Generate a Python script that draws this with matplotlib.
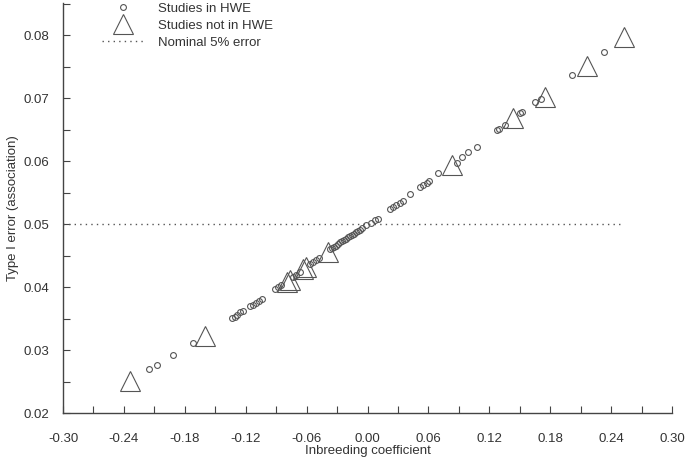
import matplotlib
matplotlib.use("Agg")
import matplotlib.pyplot as plt
from matplotlib.ticker import MultipleLocator, FormatStrFormatter

plt.rcParams['font.family'] = ['Liberation Sans', 'DejaVu Sans']

# Studies in HWE (circles): inbreeding coefficient vs type I error
hwe_f = [-0.215, -0.207, -0.192, -0.172,
         -0.134, -0.131, -0.129, -0.126, -0.123,
         -0.116, -0.113, -0.110, -0.107, -0.104,
         -0.091, -0.088, -0.085, -0.073, -0.070, -0.067,
         -0.057, -0.054, -0.051, -0.048,
         -0.037, -0.035, -0.033, -0.031, -0.029, -0.027, -0.025, -0.023,
         -0.021, -0.019, -0.017, -0.015, -0.013, -0.011, -0.009, -0.007,
         -0.005, -0.001, 0.003, 0.007, 0.010,
         0.022, 0.025, 0.028, 0.032, 0.035, 0.042,
         0.052, 0.055, 0.059, 0.061, 0.0695,
         0.088, 0.093, 0.099, 0.108, 0.1276, 0.1295, 0.1355,
         0.150, 0.152, 0.165, 0.171, 0.2015, 0.233]
hwe_err = [0.0270, 0.0276, 0.0292, 0.0311,
           0.0351, 0.0353, 0.0356, 0.0360, 0.0362,
           0.0370, 0.0372, 0.0375, 0.0378, 0.0381,
           0.0397, 0.0400, 0.0403, 0.0416, 0.0420, 0.0424,
           0.0437, 0.0440, 0.0443, 0.0446,
           0.0460, 0.0462, 0.0464, 0.0466, 0.0468, 0.0471, 0.0473, 0.0475,
           0.0477, 0.0479, 0.0481, 0.0483, 0.0485, 0.0487, 0.0489, 0.0491,
           0.0494, 0.0498, 0.0502, 0.0506, 0.0509,
           0.0524, 0.0527, 0.0530, 0.0534, 0.0537, 0.0548,
           0.0559, 0.0563, 0.0566, 0.0569, 0.0581,
           0.0598, 0.0606, 0.0614, 0.0622, 0.0649, 0.0651, 0.0657,
           0.0676, 0.0678, 0.0694, 0.0699, 0.0737, 0.0773]

# Studies not in HWE (triangles)
nhwe_f = [-0.234, -0.160, -0.079, -0.076, -0.0635, -0.061, -0.039,
          0.083, 0.143, 0.175, 0.216, 0.253]
nhwe_err = [0.0251, 0.0322, 0.0408, 0.0411, 0.0429, 0.0432, 0.0456,
            0.0594, 0.0668, 0.0702, 0.0752, 0.0797]

nominal = 0.05
nominal_span = [-0.30, 0.251]

fig = plt.figure(figsize=(6.85, 4.59), dpi=100)
ax = fig.add_axes([0.092, 0.100, 0.889, 0.893])

grey = '#555555'
ax.plot(hwe_f, hwe_err, linestyle='none', marker='o', markersize=4.2,
        markerfacecolor='none', markeredgecolor=grey, markeredgewidth=0.8,
        label='Studies in HWE')
ax.plot(nhwe_f, nhwe_err, linestyle='none', marker='^', markersize=14,
        markerfacecolor='none', markeredgecolor=grey, markeredgewidth=0.8,
        label='Studies not in HWE')
ax.plot(nominal_span, [nominal, nominal], linestyle=(0, (1, 3)), color=grey,
        linewidth=1.0, label='Nominal 5% error')

ax.set_xlim(-0.30, 0.30)
ax.set_ylim(0.02, 0.0851)
ax.xaxis.set_major_locator(MultipleLocator(0.06))
ax.xaxis.set_minor_locator(MultipleLocator(0.03))
ax.yaxis.set_major_locator(MultipleLocator(0.01))
ax.yaxis.set_minor_locator(MultipleLocator(0.005))
ax.xaxis.set_major_formatter(FormatStrFormatter('%.2f'))
ax.yaxis.set_major_formatter(FormatStrFormatter('%.2f'))

for s in ['top', 'right']:
    ax.spines[s].set_visible(False)
for s in ['left', 'bottom']:
    ax.spines[s].set_color('#444444')
    ax.spines[s].set_linewidth(1.0)

ax.tick_params(which='both', direction='in', color='#444444', width=0.8,
               labelsize=9.5, labelcolor='#333333')
ax.tick_params(which='major', length=5)
ax.tick_params(which='minor', length=5)
ax.tick_params(axis='x', which='major', pad=14)
ax.tick_params(axis='y', which='major', pad=10)

ax.set_xlabel('Inbreeding coefficient', fontsize=9.5, color='#333333', labelpad=0)
ax.set_ylabel('Type I error (association)', fontsize=9.5, color='#333333', labelpad=3)

ax.legend(loc='upper left', bbox_to_anchor=(0.045, 1.03), frameon=False,
          fontsize=9.5, labelcolor='#333333', handlelength=3.2,
          labelspacing=0.35, handletextpad=1.0)

fig.savefig('out.png', dpi=100)
